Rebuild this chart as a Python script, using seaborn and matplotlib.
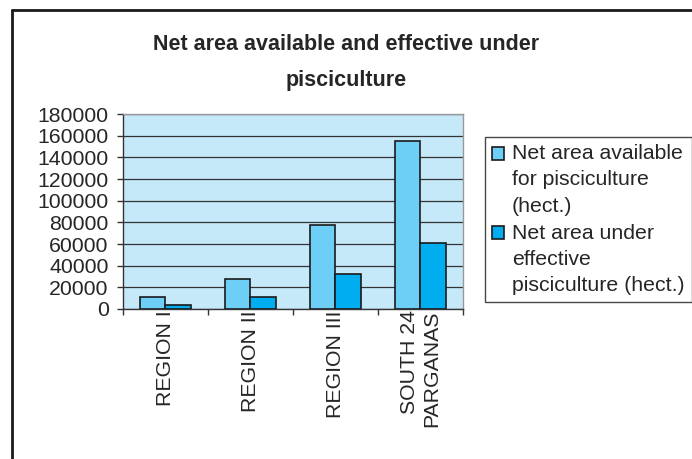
import matplotlib
matplotlib.use("Agg")
import matplotlib.pyplot as plt
from matplotlib.lines import Line2D
from matplotlib.patches import Rectangle
from matplotlib.legend_handler import HandlerPatch
import numpy as np
import pandas as pd
import seaborn as sns

# data
regions = ["REGION I", "REGION II", "REGION III", "SOUTH 24\nPARGANAS"]
available = [11000, 27700, 77800, 155400]
effective = [3700, 11000, 32000, 61200]
series = ["Net area available\nfor pisciculture\n(hect.)",
          "Net area under\neffective\npisciculture (hect.)"]
colors = ["#6dcff6", "#00adef"]

df = pd.DataFrame({
    "region": regions * 2,
    "value": available + effective,
    "series": [series[0]] * 4 + [series[1]] * 4,
})

sns.set_style("white")
plt.rcParams["font.family"] = ["Liberation Sans", "DejaVu Sans"]
FS = 15.3

fig = plt.figure(figsize=(6.92, 4.59), dpi=100)
ax = fig.add_axes([0.1777, 0.3268, 0.4913, 0.4248])
ax.set_facecolor("#c6e9fa")

sns.barplot(data=df, x="region", y="value", hue="series", palette=colors,
            saturation=1, width=0.6, edgecolor="#1a1a1a", linewidth=1.2,
            ax=ax, legend=True, zorder=3)

ax.set_ylim(0, 180000)
ax.set_xlim(-0.5, 3.5)
ax.set_yticks(np.arange(0, 180001, 20000))
ax.yaxis.grid(True, color="#333333", linewidth=0.9, zorder=0)
ax.set_axisbelow(True)
ax.set_xlabel("")
ax.set_ylabel("")

ax.set_xticks(range(4))
ax.set_xticklabels(regions, rotation=90, va="top", ha="center",
                   multialignment="right", fontsize=FS)
ax.set_xticks(np.arange(-0.5, 4, 1), minor=True)
ax.tick_params(axis="x", which="major", length=0, pad=1)
ax.tick_params(axis="x", which="minor", length=4.3, width=1, color="#333333",
               direction="out", bottom=True)
ax.tick_params(axis="y", length=4.3, width=1, color="#333333", direction="out",
               left=True, labelsize=FS, pad=6)

for s in ["top", "right"]:
    ax.spines[s].set_color("#999999")
    ax.spines[s].set_linewidth(1)
for s in ["left", "bottom"]:
    ax.spines[s].set_color("#333333")
    ax.spines[s].set_linewidth(1)


# legend square sits next to the first line of each entry
def top_square(legend, orig_handle, xdescent, ydescent, width, height, fontsize):
    return Rectangle((-xdescent, -ydescent + 1.25 * fontsize), width, height)


handles, labels = ax.get_legend_handles_labels()
ax.get_legend().remove()
leg = fig.legend(handles, labels, loc="upper left",
                 bbox_to_anchor=(485 / 692, 1 - 137 / 459),
                 fontsize=FS, frameon=True, fancybox=False,
                 handlelength=0.56, handleheight=0.56, handletextpad=0.35,
                 borderpad=0.35, labelspacing=0.38, borderaxespad=0,
                 handler_map={Rectangle: HandlerPatch(patch_func=top_square)})
for t in leg.get_texts():
    t.set_linespacing(1.47)
leg.get_frame().set_edgecolor("#1a1a1a")
leg.get_frame().set_linewidth(1)

fig.text(0.5, 1 - 62.5 / 459, "Net area available and effective under\npisciculture",
         ha="center", va="center", fontsize=15.5, fontweight="bold",
         linespacing=1.92)

# outer frame (left and top edges only)
fig.add_artist(Line2D([12 / 692, 12 / 692], [0, 1 - 10 / 459],
                      transform=fig.transFigure, color="#1a1a1a", linewidth=2))
fig.add_artist(Line2D([12 / 692, 1], [1 - 10 / 459, 1 - 10 / 459],
                      transform=fig.transFigure, color="#1a1a1a", linewidth=2))

fig.savefig("out.png", dpi=100)
